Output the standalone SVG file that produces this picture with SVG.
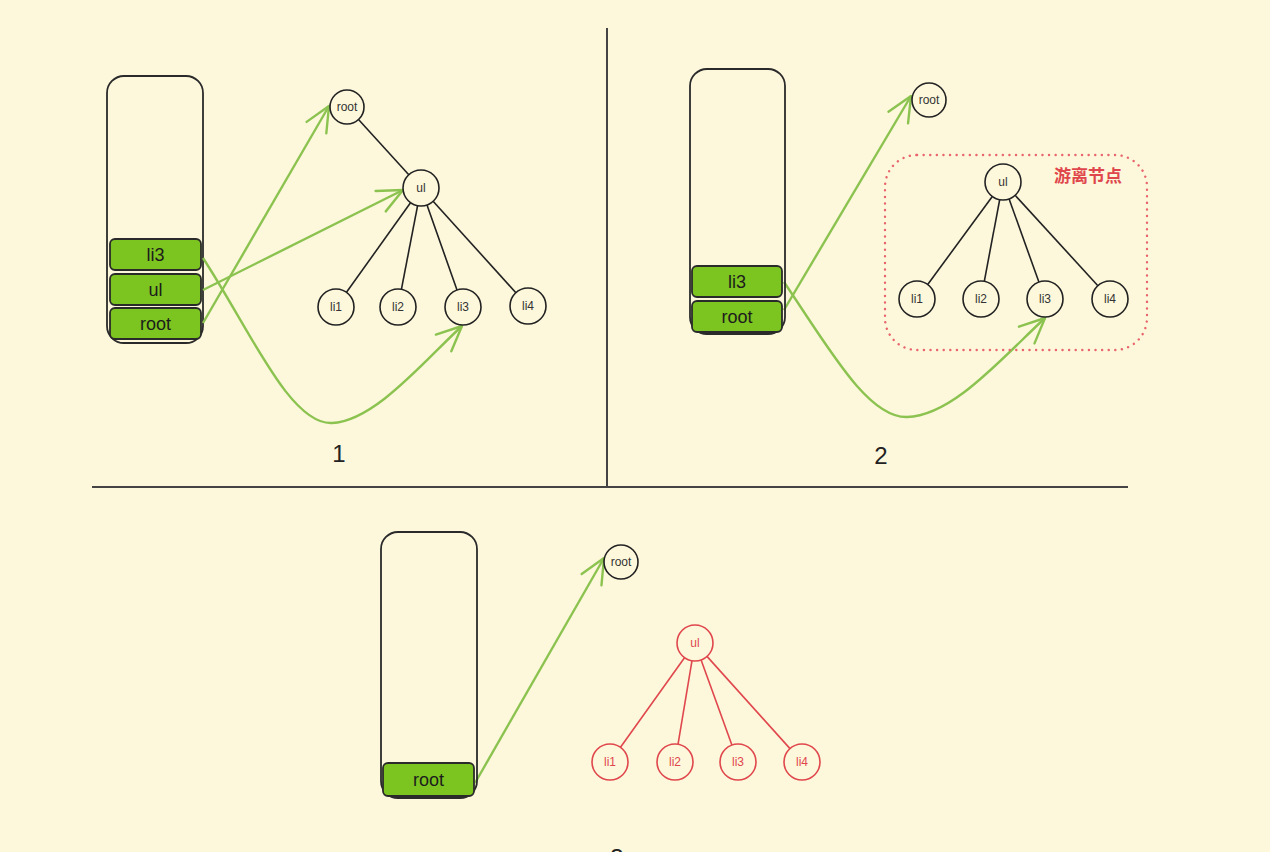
<svg xmlns="http://www.w3.org/2000/svg" width="1270" height="852" viewBox="0 0 1270 852">
<style>
.stack{fill:none;stroke:#2a2a2a;stroke-width:1.8}
.slot{fill:#7cc420;stroke:#2a2a2a;stroke-width:1.8}
.slotText{font-family:"Liberation Sans",Arial,sans-serif;font-size:18px;fill:#1c1c1c;text-anchor:middle}
.node{fill:#fdf8dc;stroke:#222;stroke-width:1.6}
.nodeText{font-family:"Liberation Sans",Arial,sans-serif;font-size:12px;fill:#333;text-anchor:middle}
.rnode{fill:#fdf8dc;stroke:#e0474c;stroke-width:1.6}
.rnodeText{font-family:"Liberation Sans",Arial,sans-serif;font-size:12px;fill:#e0474c;text-anchor:middle}
.edge{stroke:#222;stroke-width:1.6;fill:none}
.redge{stroke:#e0474c;stroke-width:1.6;fill:none}
.ptr{stroke:#8cc350;stroke-width:2.4;fill:none;marker-end:url(#chev)}
.label{font-family:"Liberation Sans",Arial,sans-serif;font-size:24px;fill:#222;text-anchor:middle}
.divider{stroke:#444;stroke-width:2}
</style>
<defs>
<marker id="chev" viewBox="0 0 32 30" refX="30" refY="15" markerWidth="32" markerHeight="30" markerUnits="userSpaceOnUse" orient="auto">
<path d="M5,3.6 L30,15 L5,26.4" fill="none" stroke="#8cc350" stroke-width="2.4" stroke-linecap="round" stroke-linejoin="round"/>
</marker>
</defs>
<rect x="0" y="0" width="1270" height="852" fill="#fdf8dc"/>

<g id="dividers">
<line class="divider" x1="607" y1="28" x2="607" y2="486"/>
<line class="divider" x1="92" y1="487" x2="1128" y2="487"/>
</g>

<!-- Panel 1 -->
<g id="p1-stack">
<rect class="stack" x="107" y="76" width="96" height="267" rx="17"/>
</g>
<g id="p1-slot-li3"><rect class="slot" x="110" y="239" width="91" height="31" rx="5"/><text class="slotText" x="155.5" y="261">li3</text></g>
<g id="p1-slot-ul"><rect class="slot" x="110" y="274" width="91" height="31" rx="5"/><text class="slotText" x="155.5" y="296">ul</text></g>
<g id="p1-slot-root"><rect class="slot" x="110" y="308" width="91" height="31" rx="5"/><text class="slotText" x="155.5" y="330">root</text></g>

<g id="connectors">
<!-- panel 1 tree edges -->
<line class="edge" x1="358.5" y1="119.5" x2="408.8" y2="174.7"/>
<line class="edge" x1="410.5" y1="202.7" x2="346.5" y2="292.3"/>
<line class="edge" x1="417.6" y1="205.7" x2="401.4" y2="289.3"/>
<line class="edge" x1="427" y1="205" x2="457" y2="290"/>
<line class="edge" x1="433.1" y1="201.3" x2="515.9" y2="292.7"/>
<!-- panel 2 tree edges -->
<line class="edge" x1="992.3" y1="196.5" x2="927.7" y2="284.5"/>
<line class="edge" x1="999.7" y1="199.7" x2="984.3" y2="281.3"/>
<line class="edge" x1="1009.1" y1="198.9" x2="1038.9" y2="282.1"/>
<line class="edge" x1="1015.1" y1="195.3" x2="1097.9" y2="285.7"/>
<!-- panel 3 tree edges -->
<line class="redge" x1="684.5" y1="657.7" x2="620.5" y2="747.3"/>
<line class="redge" x1="692" y1="660.7" x2="678" y2="744.3"/>
<line class="redge" x1="701.1" y1="659.9" x2="731.9" y2="745.1"/>
<line class="redge" x1="707" y1="656.4" x2="790" y2="748.6"/>
<!-- pointers -->
<path class="ptr" d="M203,323 L329,106"/>
<path class="ptr" d="M203,290 L403,190"/>
<path class="ptr" d="M203,258 C250,330 290,425 332,423 C375,421 425,360 462,326"/>
<path class="ptr" d="M784,310 L911,96"/>
<path class="ptr" d="M784,282 C830,350 868,418 907,417 C952,416 1000,360 1045,318"/>
<path class="ptr" d="M475,783 L604,558"/>
</g>

<g id="p1-root"><circle class="node" cx="347" cy="107" r="17"/><text class="nodeText" x="347" y="111">root</text></g>
<g id="p1-ul"><circle class="node" cx="421" cy="188" r="18"/><text class="nodeText" x="421" y="192">ul</text></g>
<g id="p1-li1"><circle class="node" cx="336" cy="307" r="18"/><text class="nodeText" x="336" y="311">li1</text></g>
<g id="p1-li2"><circle class="node" cx="398" cy="307" r="18"/><text class="nodeText" x="398" y="311">li2</text></g>
<g id="p1-li3"><circle class="node" cx="463" cy="307" r="18"/><text class="nodeText" x="463" y="311">li3</text></g>
<g id="p1-li4"><circle class="node" cx="528" cy="306" r="18"/><text class="nodeText" x="528" y="310">li4</text></g>
<text class="label" x="339" y="462">1</text>

<!-- Panel 2 -->
<g id="p2-stack"><rect class="stack" x="690" y="69" width="95" height="265" rx="17"/></g>
<g id="p2-slot-li3"><rect class="slot" x="692" y="266" width="90" height="31" rx="5"/><text class="slotText" x="737" y="288">li3</text></g>
<g id="p2-slot-root"><rect class="slot" x="692" y="301" width="90" height="31" rx="5"/><text class="slotText" x="737" y="323">root</text></g>
<g id="p2-detached">
<rect x="885" y="155" width="262" height="195" rx="32" fill="none" stroke="#e8666c" stroke-width="2.4" stroke-dasharray="0.1 6.5" stroke-linecap="round"/>
<text x="1088" y="182" font-family="Noto Sans CJK SC, Noto Sans, sans-serif" font-size="17" font-weight="bold" fill="#e0474c" text-anchor="middle">游离节点</text>
</g>
<g id="p2-root"><circle class="node" cx="929" cy="100" r="17"/><text class="nodeText" x="929" y="104">root</text></g>
<g id="p2-ul"><circle class="node" cx="1003" cy="182" r="18"/><text class="nodeText" x="1003" y="186">ul</text></g>
<g id="p2-li1"><circle class="node" cx="917" cy="299" r="18"/><text class="nodeText" x="917" y="303">li1</text></g>
<g id="p2-li2"><circle class="node" cx="981" cy="299" r="18"/><text class="nodeText" x="981" y="303">li2</text></g>
<g id="p2-li3"><circle class="node" cx="1045" cy="299" r="18"/><text class="nodeText" x="1045" y="303">li3</text></g>
<g id="p2-li4"><circle class="node" cx="1110" cy="299" r="18"/><text class="nodeText" x="1110" y="303">li4</text></g>
<text class="label" x="881" y="464">2</text>

<!-- Panel 3 -->
<g id="p3-stack"><rect class="stack" x="381" y="532" width="96" height="266" rx="17"/></g>
<g id="p3-slot-root"><rect class="slot" x="383" y="763" width="91" height="33" rx="5"/><text class="slotText" x="428.5" y="786">root</text></g>
<g id="p3-root"><circle class="node" cx="621" cy="562" r="17"/><text class="nodeText" x="621" y="566">root</text></g>
<g id="p3-ul"><circle class="rnode" cx="695" cy="643" r="18"/><text class="rnodeText" x="695" y="647">ul</text></g>
<g id="p3-li1"><circle class="rnode" cx="610" cy="762" r="18"/><text class="rnodeText" x="610" y="766">li1</text></g>
<g id="p3-li2"><circle class="rnode" cx="675" cy="762" r="18"/><text class="rnodeText" x="675" y="766">li2</text></g>
<g id="p3-li3"><circle class="rnode" cx="738" cy="762" r="18"/><text class="rnodeText" x="738" y="766">li3</text></g>
<g id="p3-li4"><circle class="rnode" cx="802" cy="762" r="18"/><text class="rnodeText" x="802" y="766">li4</text></g>
<text class="label" x="617" y="866">3</text>
</svg>
